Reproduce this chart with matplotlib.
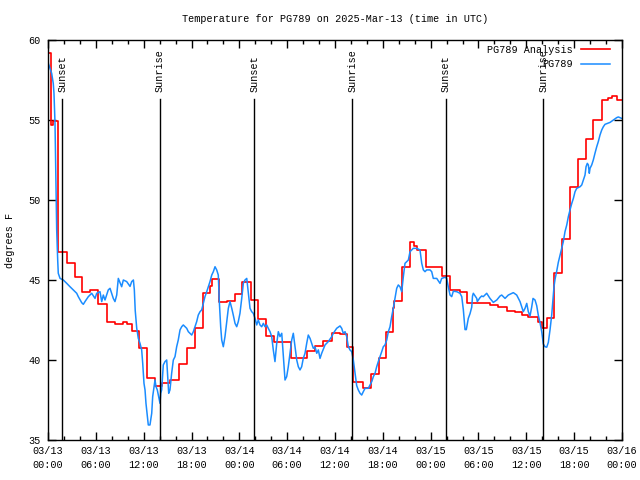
import matplotlib
matplotlib.use('Agg')
import matplotlib.pyplot as plt
from matplotlib.ticker import MultipleLocator

# ---- data (hours since 2025-03-13 00:00 UTC) ----
red_hours = [0.00, 0.34, 0.41, 0.66, 1.29, 2.38, 3.39, 4.30, 5.31, 6.31,
             7.36, 8.40, 9.45, 9.87, 10.50, 11.45, 12.38, 13.48, 14.26, 15.30,
             16.47, 17.47, 18.44, 19.41, 20.32, 20.54, 21.39, 22.42, 23.46, 24.37,
             25.43, 26.38, 27.37, 28.39, 30.42, 32.45, 33.49, 34.53, 35.59, 36.63,
             37.47, 38.20, 39.48, 40.52, 41.46, 42.40, 43.31, 43.44, 44.37, 45.41,
             45.85, 46.25, 47.45, 49.38, 50.43, 51.68, 52.52, 55.44, 56.49, 57.54,
             58.58, 59.42, 60.25, 61.50, 61.93, 62.56, 63.41, 64.51, 65.48, 66.52,
             67.49, 68.40, 69.46, 70.28, 70.71, 71.41]
red_temps = [59.17, 56.98, 54.69, 54.96, 46.77, 46.04, 45.17, 44.23, 44.38, 43.50,
             42.40, 42.25, 42.36, 42.25, 41.81, 40.73, 38.85, 38.38, 38.54, 38.75,
             39.75, 40.73, 41.98, 44.21, 44.64, 45.04, 43.65, 43.69, 44.13, 44.90,
             43.73, 42.55, 41.48, 41.15, 40.10, 40.54, 40.85, 41.20, 41.67, 41.60,
             40.83, 38.60, 38.23, 39.10, 40.10, 41.73, 43.23, 43.69, 45.83, 47.40,
             47.10, 46.88, 45.80, 45.25, 44.38, 44.23, 43.58, 43.44, 43.33, 43.08,
             42.98, 42.81, 42.67, 42.40, 41.98, 42.60, 45.42, 47.54, 50.79, 52.56,
             53.81, 55.00, 56.25, 56.35, 56.50, 56.25]

obs_hours = [
    0.00, 0.04, 0.25, 0.46, 0.66, 0.75, 0.88, 0.97, 1.09, 1.22,
    1.29, 1.51, 1.92, 2.35, 2.76, 3.17, 3.60, 3.80, 4.23, 4.43,
    4.64, 5.06, 5.48, 5.90, 6.11, 6.52, 6.74, 6.94, 7.15, 7.56,
    7.78, 8.19, 8.40, 8.62, 8.82, 9.24, 9.45, 9.87, 10.29, 10.50,
    10.71, 10.83, 10.94, 11.13, 11.33, 11.54, 11.75, 11.88, 12.04, 12.17,
    12.29, 12.46, 12.58, 12.79, 13.01, 13.13, 13.30, 13.42, 13.55, 13.71,
    13.92, 14.05, 14.14, 14.26, 14.46, 14.68, 14.89, 15.02, 15.14, 15.30,
    15.51, 15.72, 15.93, 16.14, 16.34, 16.56, 16.77, 16.97, 17.19, 17.40,
    17.60, 17.81, 18.03, 18.23, 18.44, 18.65, 18.85, 19.07, 19.28, 19.48,
    19.69, 19.91, 20.11, 20.32, 20.54, 20.74, 20.95, 21.16, 21.36, 21.49,
    21.66, 21.79, 21.99, 22.20, 22.42, 22.62, 22.83, 23.05, 23.24, 23.46,
    23.67, 23.87, 24.08, 24.30, 24.50, 24.71, 24.93, 25.13, 25.34, 25.55,
    25.75, 25.97, 26.18, 26.38, 26.59, 26.81, 27.01, 27.22, 27.43, 27.63,
    27.85, 28.06, 28.26, 28.47, 28.69, 28.89, 29.10, 29.32, 29.52, 29.73,
    29.94, 30.14, 30.36, 30.57, 30.77, 30.98, 31.20, 31.40, 31.61, 31.82,
    32.02, 32.24, 32.45, 32.65, 32.87, 33.08, 33.28, 33.49, 33.71, 33.91,
    34.12, 34.33, 34.75, 35.16, 35.59, 35.79, 36.21, 36.63, 36.84, 37.04,
    37.26, 37.47, 37.67, 37.88, 38.10, 38.30, 38.51, 38.72, 38.92, 39.14,
    39.35, 39.55, 39.77, 40.18, 40.39, 40.61, 40.81, 41.02, 41.23, 41.43,
    41.65, 41.86, 42.06, 42.27, 42.49, 42.69, 42.90, 43.11, 43.31, 43.53,
    43.74, 43.94, 44.15, 44.37, 44.57, 44.78, 45.00, 45.20, 45.41, 45.62,
    45.82, 46.25, 46.66, 46.88, 47.08, 47.29, 47.50, 47.92, 48.13, 48.33,
    48.76, 49.17, 49.38, 49.80, 50.01, 50.21, 50.43, 50.64, 50.84, 51.27,
    51.68, 51.90, 52.10, 52.31, 52.47, 52.72, 52.94, 53.15, 53.25, 53.35,
    53.78, 53.85, 54.19, 54.40, 54.60, 55.03, 55.44, 55.86, 56.29, 56.70,
    56.91, 57.33, 57.74, 58.37, 58.79, 59.21, 59.62, 59.84, 60.05, 60.25,
    60.46, 60.67, 60.84, 61.09, 61.30, 61.50, 61.71, 61.93, 62.13, 62.34,
    62.56, 62.76, 62.97, 63.18, 63.38, 63.47, 63.60, 63.81, 64.01, 64.23,
    64.44, 64.64, 64.85, 65.07, 65.27, 65.48, 65.70, 65.90, 66.11, 66.32,
    66.74, 66.95, 67.15, 67.36, 67.49, 67.65, 67.78, 67.90, 67.99, 68.20,
    68.40, 68.61, 68.83, 69.03, 69.24, 69.46, 69.66, 69.87, 70.50, 70.91,
    71.34, 71.54, 71.97]
obs_temps = [
    58.85, 58.54, 58.23, 57.92, 57.29, 56.67, 54.79, 52.08, 48.13, 46.20,
    45.42, 45.10, 45.00, 44.79, 44.58, 44.38, 44.17, 43.96, 43.58, 43.48,
    43.65, 43.96, 44.17, 43.85, 44.17, 44.27, 43.65, 44.06, 43.75, 44.38,
    44.48, 43.85, 43.65, 44.06, 45.10, 44.58, 45.00, 44.90, 44.60, 44.90,
    45.00, 44.38, 43.10, 41.98, 41.35, 41.04, 40.63, 39.79, 38.54, 38.13,
    37.29, 36.46, 35.94, 35.94, 36.67, 37.71, 38.33, 38.75, 38.33, 38.13,
    37.60, 37.29, 37.92, 38.13, 39.69, 39.90, 40.00, 38.96, 37.92, 38.13,
    39.17, 40.00, 40.21, 40.83, 41.25, 41.88, 42.08, 42.19, 42.08, 41.98,
    41.77, 41.67, 41.56, 41.77, 42.08, 42.40, 42.81, 43.02, 43.13, 43.54,
    43.96, 44.27, 44.58, 44.90, 45.31, 45.52, 45.83, 45.63, 45.31, 43.65,
    42.08, 41.25, 40.83, 41.46, 42.40, 43.23, 43.65, 43.23, 42.81, 42.29,
    42.08, 42.40, 42.92, 43.85, 44.79, 45.00, 45.10, 44.17, 43.23, 43.02,
    42.92, 42.60, 42.19, 42.50, 42.19, 42.08, 42.29, 42.08, 42.19, 41.98,
    41.77, 41.46, 40.63, 39.90, 41.04, 41.77, 41.46, 41.67, 40.21, 38.75,
    38.96, 39.58, 40.42, 41.25, 41.67, 40.83, 40.00, 39.58, 39.38, 39.58,
    40.10, 40.42, 41.04, 41.56, 41.35, 41.04, 40.73, 40.83, 40.42, 40.63,
    40.10, 40.42, 40.94, 41.15, 41.46, 41.67, 41.98, 42.13, 41.98, 41.67,
    41.77, 41.46, 40.83, 40.63, 40.52, 40.00, 39.20, 38.40, 38.13, 37.92,
    37.81, 38.02, 38.23, 38.23, 38.44, 38.65, 38.96, 39.17, 39.58, 39.90,
    40.21, 40.52, 40.83, 40.94, 41.25, 41.77, 42.08, 42.71, 43.23, 43.85,
    44.48, 44.69, 44.58, 44.27, 45.20, 46.04, 46.15, 46.25, 46.77, 46.88,
    46.98, 46.98, 46.88, 46.04, 45.63, 45.52, 45.63, 45.63, 45.52, 45.10,
    45.10, 44.79, 45.10, 45.17, 45.10, 44.58, 44.06, 43.96, 44.30, 44.27,
    44.17, 43.96, 43.13, 41.90, 41.90, 42.60, 42.90, 43.30, 44.00, 44.17,
    43.85, 43.65, 43.90, 44.00, 43.96, 44.17, 43.85, 43.60, 43.75, 44.00,
    44.06, 43.85, 44.06, 44.21, 44.06, 43.65, 43.02, 43.23, 43.54, 43.02,
    42.75, 43.30, 43.85, 43.75, 43.40, 42.80, 42.35, 41.77, 41.00, 40.83,
    40.80, 41.10, 41.88, 42.80, 44.00, 44.58, 45.05, 45.55, 46.10, 46.56,
    46.98, 47.40, 48.02, 48.44, 48.96, 49.38, 49.79, 50.10, 50.52, 50.73,
    50.83, 50.94, 51.25, 51.56, 52.08, 52.29, 52.19, 51.67, 51.98, 52.19,
    52.50, 52.92, 53.33, 53.65, 54.06, 54.38, 54.58, 54.73, 54.85, 55.00,
    55.15, 55.19, 55.10]

sun_hours = [1.79, 14.05, 25.88, 38.17, 49.93, 62.13]
sun_labels = ["Sunset", "Sunrise", "Sunset", "Sunrise", "Sunset", "Sunrise"]

tick_hours = [0, 6, 12, 18, 24, 30, 36, 42, 48, 54, 60, 66, 72]
tick_labels = ["03/13\n00:00", "03/13\n06:00", "03/13\n12:00", "03/13\n18:00",
               "03/14\n00:00", "03/14\n06:00", "03/14\n12:00", "03/14\n18:00",
               "03/15\n00:00", "03/15\n06:00", "03/15\n12:00", "03/15\n18:00",
               "03/16\n00:00"]
y_ticks = [35, 40, 45, 50, 55, 60]

title = "Temperature for PG789 on 2025-Mar-13 (time in UTC)"
series_names = ["PG789 Analysis", "PG789"]

assert len(red_hours) == len(red_temps)
assert len(obs_hours) == len(obs_temps)

# ---- drawing ----
plt.rcParams['font.family'] = ['Liberation Mono', 'DejaVu Sans Mono']
fs = 7.3

fig = plt.figure(figsize=(6.4, 4.8), dpi=100)
ax = fig.add_axes([48 / 640, 40 / 480, 574 / 640, 400 / 480])
ax.set_xlim(0, 72)
ax.set_ylim(35, 60)

ax.step(red_hours + [72], red_temps + [red_temps[-1]], where='post',
        color='#ff0000', lw=1.2, label=series_names[0])
ax.plot(obs_hours, obs_temps, color='#1a8cff', lw=1.1, label=series_names[1])

xt = ax.get_xaxis_transform()
for h, lab in zip(sun_hours, sun_labels):
    ax.plot([h, h], [0, 0.8525], transform=xt, color='black', lw=1.0)
    ax.text(h, 0.87, lab, rotation=90, ha='center', va='bottom',
            transform=xt, fontsize=fs)

ax.set_xticks(tick_hours)
ax.set_xticklabels(tick_labels)
for lbl in ax.get_xticklabels():
    lbl.set_linespacing(1.5)
ax.xaxis.set_minor_locator(MultipleLocator(2))
ax.set_yticks(y_ticks)
ax.tick_params(which='major', direction='in', top=True, right=True,
               length=6, width=1, labelsize=fs)
ax.tick_params(which='minor', direction='in', top=True, right=True,
               length=3, width=1)
ax.tick_params(axis='x', pad=4)
ax.tick_params(axis='y', pad=5.5)
for s in ax.spines.values():
    s.set_linewidth(1.0)

ax.legend(loc='upper right', bbox_to_anchor=(0.979, 0.9875), frameon=False,
          markerfirst=False, fontsize=fs, handlelength=2.9, handletextpad=0.8,
          labelspacing=0.4, borderpad=0, borderaxespad=0)

fig.text(335 / 640, 1 - 19 / 480, title, ha='center', va='center', fontsize=fs)
fig.text(10 / 640, 0.5, 'degrees F', rotation=90, ha='center', va='center',
         fontsize=fs)

fig.savefig('out.png', dpi=100)
